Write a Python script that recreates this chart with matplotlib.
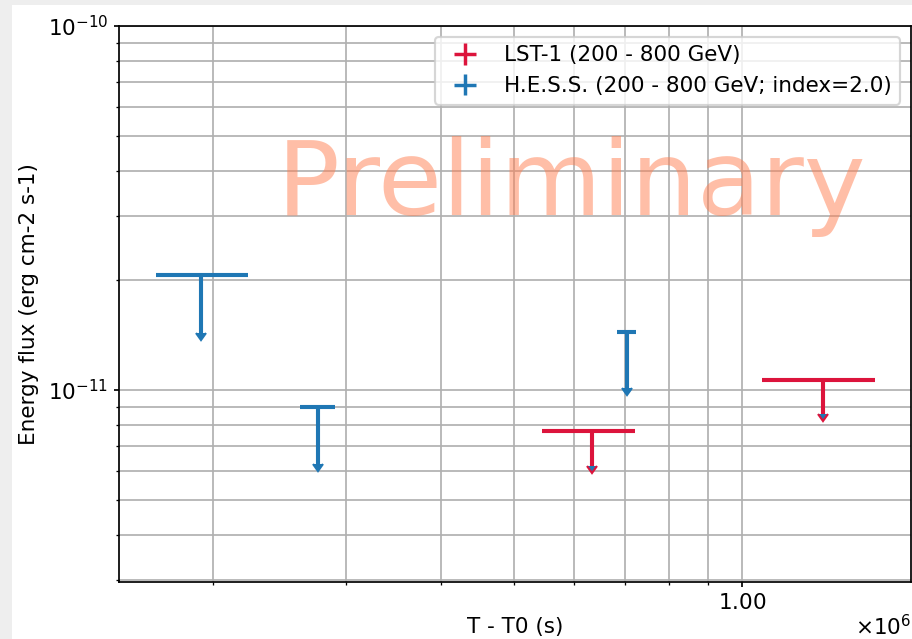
import matplotlib
matplotlib.use("Agg")
import matplotlib.pyplot as plt
import matplotlib.transforms as mtransforms
from matplotlib.ticker import ScalarFormatter
from matplotlib.patches import Rectangle
import numpy as np

# LST-1 upper limits (200 - 800 GeV)
lst_t = [6.34e5, 1.280e6]
lst_terr_lo = [0.905e5, 2.17e5]
lst_terr_hi = [0.884e5, 2.15e5]
lst_ul = [7.72e-12, 1.067e-11]
lst_arrow = [1.54e-12, 2.09e-12]

# H.E.S.S. upper limits (200 - 800 GeV; index=2.0)
hess_t = [1.929e5, 2.752e5, 7.04e5]
hess_terr_lo = [2.47e4, 1.42e4, 2.06e4]
hess_terr_hi = [2.96e4, 1.52e4, 2.05e4]
hess_ul = [2.069e-11, 8.966e-12, 1.443e-11]
hess_arrow = [6.31e-12, 2.72e-12, 4.27e-12]

red = 'crimson'
blue = 'tab:blue'

dpi = 155
fig = plt.figure(figsize=(912 / dpi, 639 / dpi), dpi=dpi)
fig.patch.set_facecolor('#eeeeee')
fig.patches.append(Rectangle((12 / 912, 0), 1, 1 - 5 / 639, transform=fig.transFigure,
                             facecolor='white', edgecolor='none', zorder=-10))

ax = fig.add_axes([119 / 912, 57 / 639, 792 / 912, 556 / 639])
ax.set_xscale('log')
ax.set_yscale('log')

for t, lo, hi, ul, arr, col in [(lst_t, lst_terr_lo, lst_terr_hi, lst_ul, lst_arrow, red),
                                (hess_t, hess_terr_lo, hess_terr_hi, hess_ul, hess_arrow, blue)]:
    eb = ax.errorbar(t, ul, xerr=[lo, hi], yerr=arr, uplims=True,
                     fmt='none', ecolor=col, elinewidth=1.9, capsize=0)
    for cl in eb[1]:
        cl.set_markersize(4.2)

# legend entries
ax.errorbar([], [], xerr=[], yerr=[], fmt='none', ecolor=red, elinewidth=1.6,
            label='LST-1 (200 - 800 GeV)')
ax.errorbar([], [], xerr=[], yerr=[], fmt='none', ecolor=blue, elinewidth=1.6,
            capsize=2.5, capthick=1.8, label='H.E.S.S. (200 - 800 GeV; index=2.0)')

ax.set_xlim(1.505e5, 1.67e6)
ax.set_ylim(2.97e-12, 1e-10)
ax.xaxis.set_major_formatter(ScalarFormatter(useMathText=True))
ax.tick_params(which='major', length=2.4, pad=2.5)
ax.tick_params(which='minor', length=1.4)
ax.grid(which='both')
ax.set_axisbelow(True)

# nudge the x10^6 offset label up a little
off = ax.xaxis.get_offset_text()
off.set_transform(off.get_transform() + mtransforms.Affine2D().translate(0, 5))

ax.text(0.571, 0.66, 'Preliminary', transform=ax.transAxes, fontsize=48.5,
        color='coral', alpha=0.5, ha='center', va='baseline')

ax.set_xlabel('T - T0 (s)', labelpad=2)
ax.set_ylabel('Energy flux (erg cm-2 s-1)')
ax.legend(loc='upper right')

fig.savefig('out.png', dpi=dpi)
